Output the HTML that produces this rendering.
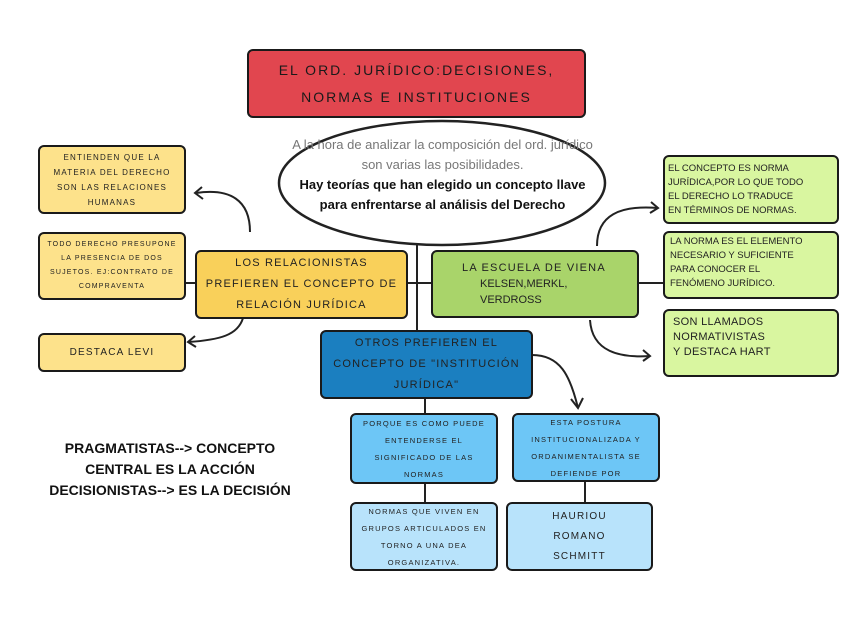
<!DOCTYPE html>
<html><head><meta charset="utf-8"><style>
body{margin:0;width:848px;height:636px;background:#fff;position:relative;overflow:hidden;font-family:"Liberation Sans","DejaVu Sans",sans-serif;}
.b{position:absolute;box-sizing:border-box;border:2.5px solid #1a1a1a;border-radius:6px;display:flex;flex-direction:column;justify-content:center;align-items:center;text-align:center;color:#222;letter-spacing:1.2px}
svg{position:absolute;left:0;top:0}
</style></head><body>
<svg width="848" height="636" fill="none" stroke="#222" stroke-width="2">
<line x1="417" y1="245" x2="417" y2="332"/>
<line x1="185" y1="283" x2="196" y2="283"/>
<line x1="407" y1="283" x2="432" y2="283"/>
<line x1="637" y1="283" x2="664" y2="283"/>
<line x1="425" y1="398" x2="425" y2="414"/>
<line x1="425" y1="482" x2="425" y2="503"/>
<line x1="585" y1="480" x2="585" y2="503"/>
<path d="M250 232 C250 200 230 188 196 193"/><path d="M202 187 L195 193 L203 199"/>
<path d="M243 318 C238 335 220 340 188 342"/><path d="M195 336 L188 342 L196 347"/>
<path d="M597 246 C597 215 620 205 658 208"/><path d="M651 202 L658 208 L650 213"/>
<path d="M590 320 C592 352 620 358 650 356"/><path d="M643 350 L650 356 L643 361"/>
<path d="M532 355 C560 355 570 375 578 408"/><path d="M571 399 L578 408 L583 398"/>
<ellipse cx="442" cy="183" rx="163" ry="62" fill="#fff" stroke-width="2.5"/>
</svg>
<div class="b" style="left:247px;top:49px;width:339px;height:69px;background:#e1464f;font-size:14px;letter-spacing:2px;line-height:27px;color:#1a1a1a">EL ORD. JURÍDICO:DECISIONES,<br>NORMAS E INSTITUCIONES</div>
<div style="position:absolute;left:285px;top:135px;width:315px;text-align:center;font-size:13px;line-height:20px;color:#777">A la hora de analizar la composición del ord. jurídico son varias las posibilidades.<br><b style="color:#111">Hay teorías que han elegido un concepto llave para enfrentarse al análisis del Derecho</b></div>
<div class="b" style="left:195px;top:250px;width:213px;height:69px;background:#f9d05a;font-size:11px;line-height:21px">LOS RELACIONISTAS<br>PREFIEREN EL CONCEPTO DE<br>RELACIÓN JURÍDICA</div>
<div class="b" style="left:431px;top:250px;width:208px;height:68px;background:#a9d46a;font-size:11px;line-height:16px;align-items:flex-start;padding-left:25px;text-align:left"><span style="margin-left:4px">LA ESCUELA DE VIENA</span><span style="margin-left:22px;letter-spacing:0">KELSEN,MERKL,</span><span style="margin-left:22px;letter-spacing:0">VERDROSS</span></div>
<div class="b" style="left:320px;top:330px;width:213px;height:69px;background:#1b7fc0;font-size:11px;line-height:21px">OTROS PREFIEREN EL<br>CONCEPTO DE "INSTITUCIÓN<br>JURÍDICA"</div>
<div class="b" style="left:38px;top:145px;width:148px;height:69px;background:#fde28b;font-size:8px;line-height:15px">ENTIENDEN QUE LA<br>MATERIA DEL DERECHO<br>SON LAS RELACIONES<br>HUMANAS</div>
<div class="b" style="left:38px;top:232px;width:148px;height:68px;background:#fde28b;font-size:7px;line-height:14px">TODO DERECHO PRESUPONE<br>LA PRESENCIA DE DOS<br>SUJETOS. EJ:CONTRATO DE<br>COMPRAVENTA</div>
<div class="b" style="left:38px;top:333px;width:148px;height:39px;background:#fde28b;font-size:10px">DESTACA LEVI</div>
<div class="b" style="left:663px;top:155px;width:176px;height:69px;background:#d9f6a0;font-size:9.5px;line-height:14px;letter-spacing:0;align-items:flex-start;text-align:left;padding-left:3px">EL CONCEPTO ES NORMA<br>JURÍDICA,POR LO QUE TODO<br>EL DERECHO LO TRADUCE<br>EN TÉRMINOS DE NORMAS.</div>
<div class="b" style="left:663px;top:231px;width:176px;height:68px;background:#d9f6a0;font-size:9.5px;line-height:14px;letter-spacing:0;align-items:flex-start;text-align:left;padding-left:5px;justify-content:flex-start;padding-top:2px">LA NORMA ES EL ELEMENTO<br>NECESARIO Y SUFICIENTE<br>PARA CONOCER EL<br>FENÓMENO JURÍDICO.</div>
<div class="b" style="left:663px;top:309px;width:176px;height:68px;background:#d9f6a0;font-size:11px;line-height:15px;letter-spacing:0.3px;align-items:flex-start;text-align:left;padding-left:8px;justify-content:flex-start;padding-top:4px">SON LLAMADOS<br>NORMATIVISTAS<br>Y DESTACA HART</div>
<div class="b" style="left:350px;top:413px;width:148px;height:71px;background:#6dc6f6;font-size:7.5px;line-height:17px">PORQUE ES COMO PUEDE<br>ENTENDERSE EL<br>SIGNIFICADO DE LAS<br>NORMAS</div>
<div class="b" style="left:512px;top:413px;width:148px;height:69px;background:#6dc6f6;font-size:7.5px;line-height:17px">ESTA POSTURA<br>INSTITUCIONALIZADA Y<br>ORDANIMENTALISTA SE<br>DEFIENDE POR</div>
<div class="b" style="left:350px;top:502px;width:148px;height:69px;background:#b8e3fb;font-size:7.5px;line-height:17px">NORMAS QUE VIVEN EN<br>GRUPOS ARTICULADOS EN<br>TORNO A UNA DEA<br>ORGANIZATIVA.</div>
<div class="b" style="left:506px;top:502px;width:147px;height:69px;background:#b8e3fb;font-size:10px;line-height:20px">HAURIOU<br>ROMANO<br>SCHMITT</div>
<div style="position:absolute;left:20px;top:438px;width:300px;text-align:center;font-weight:bold;font-size:14px;line-height:21px;color:#111">PRAGMATISTAS--&gt; CONCEPTO<br>CENTRAL ES LA ACCIÓN<br>DECISIONISTAS--&gt; ES LA DECISIÓN</div>
</body></html>
